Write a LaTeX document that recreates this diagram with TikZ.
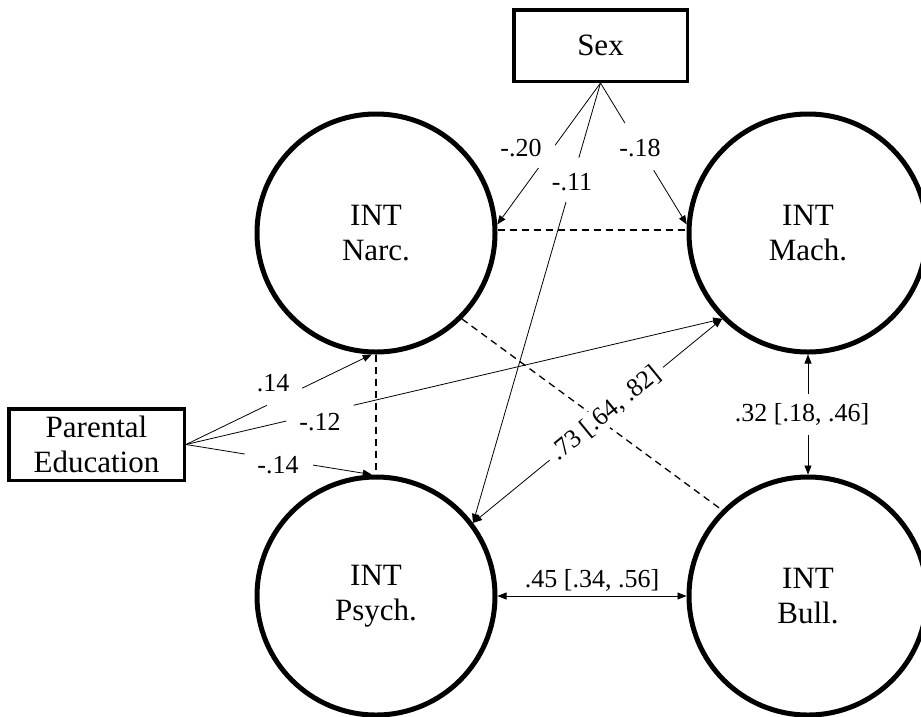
\documentclass[tikz,border=0pt]{standalone}
\usepackage{fontspec}
\setmainfont{Liberation Serif}
\usetikzlibrary{arrows.meta}
\begin{document}
\begin{tikzpicture}[x=1pt,y=-1pt,
  latent/.style={circle, draw, line width=5pt, minimum size=238pt, inner sep=0pt, align=center, font=\fontsize{31}{35}\selectfont},
  obs/.style={rectangle, draw, line width=3.5pt, align=center, inner sep=0pt, font=\fontsize{31}{35}\selectfont},
  tip/.tip={Triangle[length=9pt,width=7pt]},
  regr/.style={line width=0.8pt, -tip},
  cov/.style={line width=0.8pt, tip-tip},
  corr/.style={line width=1.3pt, dash pattern=on 7pt off 5pt},
  lab/.style={font=\fontsize{26}{28}\selectfont, inner sep=1pt},
  gap/.style={sloped, fill=white, inner sep=0pt, minimum height=5pt}
]
\useasboundingbox (0,0) rectangle (921,716);
% latent variables
\node[latent] (narc) at (376,233) {INT\\Narc.};
\node[latent] (mach) at (808,233) {INT\\Mach.};
\node[latent] (psych) at (376,596) {INT\\Psych.};
\node[latent] (bull) at (808,596) {INT\\Bull.};
% observed
\node[obs, minimum width=173.5pt, minimum height=71.5pt] (sex) at (600.5,45.5) {Sex};
\node[obs, minimum width=175.5pt, minimum height=71.5pt] (pe) at (96.5,444.5) {Parental\\Education};
% correlations (dashed)
\draw[corr] ([yshift=3pt]narc.east) -- ([yshift=3pt]mach.west);
\draw[corr] (narc.south) -- (psych.north);
\draw[corr] (narc.-45) -- (bull.135);
% sex paths
\draw[regr] (sex.south) -- node[gap, pos=0.52, minimum width=28pt]{} (narc.4);
\draw[regr] (sex.south) -- node[gap, pos=0.45, minimum width=55pt]{} (mach.176);
\draw[regr] (sex.south) -- node[gap, pos=0.22, minimum width=46pt]{} (psych.37);
\node[lab] (l20) at (521,148) {-.20};
\node[lab] (l18) at (640,148) {-.18};
\node[lab] (l11) at (572,182) {-.11};
% parental education paths
\draw[regr] (pe.east) -- node[gap, pos=0.53, minimum width=39pt]{} (narc.268);
\draw[regr] (pe.east) -- node[gap, pos=0.25, minimum width=69pt]{} (mach.225);
\draw[regr] (pe.east) -- node[gap, pos=0.5, minimum width=69pt]{} (psych.92);
\node[lab] (l14) at (273,383) {.14};
\node[lab] (l12) at (320,422) {-.12};
\node[lab] (lm14) at (278,465) {-.14};
% covariances
\draw[cov] (psych.37) -- node[lab, sloped, fill=white, pos=0.535, inner xsep=6pt, inner ysep=2pt] {.73 [.64, .82]} (mach.225);
\draw[cov] (mach.south) -- node[lab, fill=white, pos=0.5, inner xsep=2pt, inner ysep=9pt, xshift=-6pt] {.32 [.18, .46]} (bull.north);
\draw[cov] (psych.east) -- (bull.west);
\node[lab] (l45) at (592,580) {.45 [.34, .56]};
\end{tikzpicture}
\end{document}
